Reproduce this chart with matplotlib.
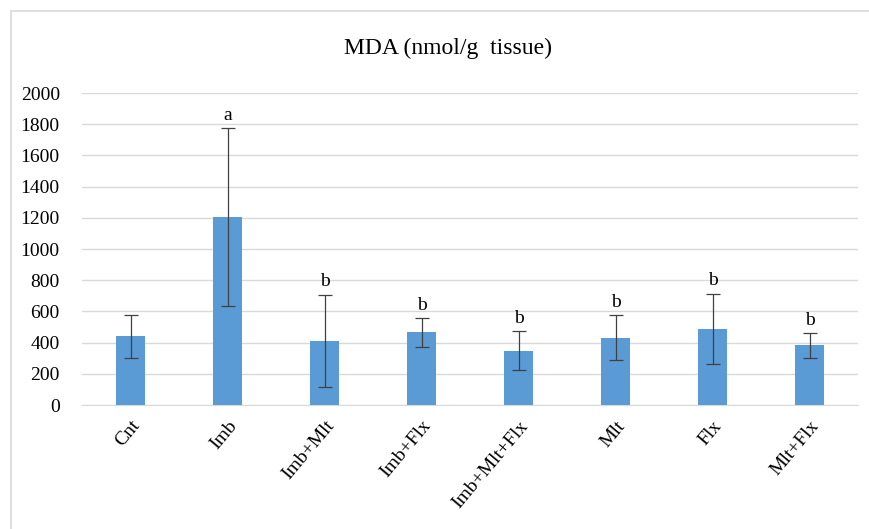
import matplotlib
matplotlib.use('Agg')
import matplotlib.pyplot as plt
from matplotlib.patches import Rectangle

groups = ['Cnt', 'Imb', 'Imb+Mlt', 'Imb+Flx', 'Imb+Mlt+Flx', 'Mlt', 'Flx', 'Mlt+Flx']
mda = [440, 1205, 410, 465, 348, 432, 487, 382]
sd = [138, 568, 295, 90, 124, 143, 224, 78]
letters = ['', 'a', 'b', 'b', 'b', 'b', 'b', 'b']
yticks = [0, 200, 400, 600, 800, 1000, 1200, 1400, 1600, 1800, 2000]

plt.rcParams['font.family'] = ['Liberation Serif', 'DejaVu Serif']

fig = plt.figure(figsize=(8.7, 5.29), dpi=100)
ax = fig.add_axes([82 / 870, 1 - 405 / 529, (858 - 82) / 870, (405 - 93) / 529])

# cadre du graphique
fig.patches.append(Rectangle((11 / 870, -0.05), 1.0, 1 - 11 / 529 + 0.05,
                             transform=fig.transFigure, fill=False,
                             edgecolor='#d9d9d9', linewidth=1.2))

x = list(range(len(groups)))
ax.bar(x, mda, width=0.3, color='#5b9bd5', zorder=3)
ax.errorbar(x, mda, yerr=sd, fmt='none', ecolor='#404040', elinewidth=0.9,
            capsize=5, capthick=0.9, zorder=4)

for xi, m, s, lab in zip(x, mda, sd, letters):
    if lab:
        ax.text(xi, m + s + 30, lab, ha='center', va='bottom', fontsize=14)

ax.set_xlim(-0.5, len(groups) - 0.5)
ax.set_ylim(0, 2000)
ax.set_yticks(yticks)
ax.set_xticks(x)
ax.set_xticklabels(groups, rotation=50, ha='right', rotation_mode='anchor', fontsize=14)
ax.tick_params(axis='y', labelsize=14, length=0, pad=16)
ax.tick_params(axis='x', length=0, pad=9)
ax.grid(axis='y', color='#d9d9d9', linewidth=1, zorder=0)
for side in ['top', 'right', 'left']:
    ax.spines[side].set_visible(False)
ax.spines['bottom'].set_color('#d9d9d9')

fig.text(448 / 870, 1 - 48 / 529, 'MDA (nmol/g  tissue)', ha='center', va='center', fontsize=17)

plt.savefig('out.png', dpi=100)
